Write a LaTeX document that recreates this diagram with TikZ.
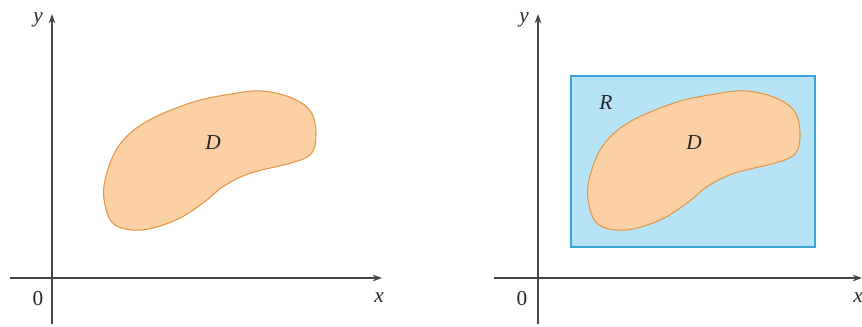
\documentclass[tikz,border=0pt]{standalone}
\usepackage{fontspec}
\setmainfont{Liberation Serif}
\usetikzlibrary{arrows.meta}
\definecolor{blobfill}{RGB}{251,208,165}
\definecolor{blobline}{RGB}{226,150,70}
\definecolor{rectfill}{RGB}{182,228,246}
\definecolor{rectline}{RGB}{60,165,215}
\definecolor{axis}{RGB}{70,70,70}
\definecolor{txt}{RGB}{40,40,40}
\tikzset{
  axisline/.style={draw=axis,line width=1.1pt,-{Stealth[length=7pt,width=5pt]}},
  blob/.style={fill=blobfill,draw=blobline,line width=0.8pt},
  rectbox/.style={fill=rectfill,draw=rectline,line width=0.9pt},
  lbl/.style={font=\fontsize{16}{18}\selectfont,inner sep=0pt,text=txt},
}
\newcommand{\blobpath}{plot[smooth cycle,tension=0.6] coordinates{(105,180) (118,147) (144,123) (190,103) (231,94) (262,91) (292,98) (311,112) (316,135) (311,154) (291,163) (251,173) (224,186) (203,203) (176,220) (142,230) (115,225) (105,205)}}
\begin{document}
\begin{tikzpicture}[x=0.75pt,y=-0.75pt]
\useasboundingbox (0,0) rectangle (862,326);
% left panel
\coordinate (lxs) at (10,278);
\coordinate (lxe) at (382,278);
\coordinate (lys) at (52,324);
\coordinate (lye) at (52,14);
\draw[axisline] (lxs) -- (lxe);
\draw[axisline] (lys) -- (lye);
\node[lbl] (ly) at (38,20) {\itshape y};
\node[lbl] (l0) at (38,298) {0};
\node[lbl] (lx) at (379,298) {\itshape x};
\path[blob] \blobpath;
\node[lbl] (lD) at (213,143) {\itshape D};
% right panel
\begin{scope}[shift={(484,0)}]
\path[rectbox] (87,76) rectangle (331,247);
\path[blob] \blobpath;
\node[lbl] (rR) at (122,103) {\itshape R};
\node[lbl] (rD) at (210,143) {\itshape D};
\coordinate (rxs) at (10,278);
\coordinate (rxe) at (378,278);
\coordinate (rys) at (54,324);
\coordinate (rye) at (54,14);
\draw[axisline] (rxs) -- (rxe);
\draw[axisline] (rys) -- (rye);
\node[lbl] (ry) at (40,20) {\itshape y};
\node[lbl] (r0) at (38,298) {0};
\node[lbl] (rx) at (374,298) {\itshape x};
\end{scope}
\end{tikzpicture}
\end{document}
